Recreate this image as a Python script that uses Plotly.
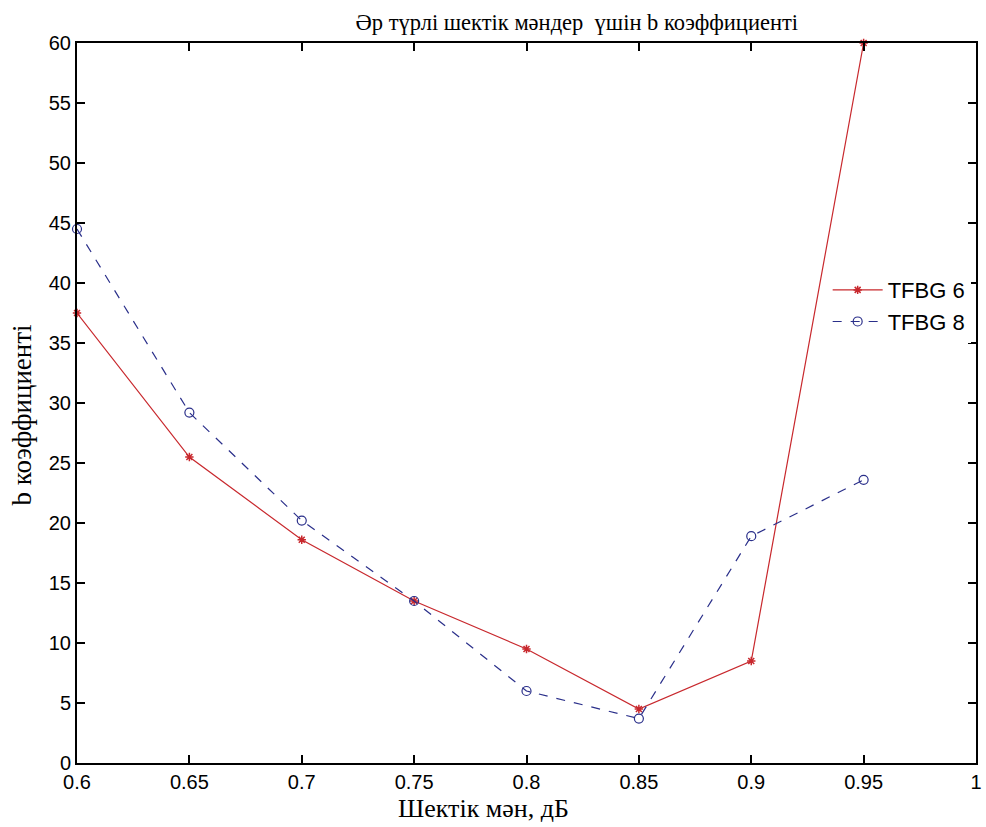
import plotly.graph_objects as go

x_vals = [0.6, 0.65, 0.7, 0.75, 0.8, 0.85, 0.9, 0.95]
tfbg6 = [37.5, 25.5, 18.6, 13.5, 9.5, 4.5, 8.5, 60.0]
tfbg8 = [44.5, 29.2, 20.2, 13.5, 6.0, 3.7, 18.9, 23.6]
x_ticks = [0.6, 0.65, 0.7, 0.75, 0.8, 0.85, 0.9, 0.95, 1.0]
x_tick_text = ["0.6", "0.65", "0.7", "0.75", "0.8", "0.85", "0.9", "0.95", "1"]
y_ticks = list(range(0, 61, 5))

fig = go.Figure()
fig.add_trace(go.Scatter(
    x=x_vals, y=tfbg6, name="TFBG 6", mode="lines+markers",
    line=dict(color="#c8282d", width=1.2),
    marker=dict(symbol="asterisk-open", size=7, color="#c8282d",
                line=dict(color="#c8282d", width=1.5)),
    cliponaxis=False,
))
fig.add_trace(go.Scatter(
    x=x_vals, y=tfbg8, name="TFBG 8", mode="lines+markers",
    line=dict(color="#2a2f8a", width=1.2, dash="dash"),
    marker=dict(symbol="circle-open", size=9, color="#2a2f8a",
                line=dict(color="#2a2f8a", width=1.2)),
    cliponaxis=False,
))

axis_common = dict(
    showgrid=False, zeroline=False, showline=True, linecolor="black",
    linewidth=2, mirror="ticks", ticks="inside", ticklen=8, tickwidth=2,
    tickcolor="black", tickfont=dict(family="Liberation Sans, Arial", size=20, color="black"),
)

serif = "Liberation Serif, Times New Roman"

fig.update_layout(
    width=986, height=827,
    paper_bgcolor="white", plot_bgcolor="white",
    margin=dict(l=77, r=4, t=43, b=64),
    title=dict(text="Әр түрлі шектік мәндер  үшін b коэффициенті",
               x=0.585, xanchor="center", y=0.973, yanchor="middle",
               font=dict(family=serif, size=22.5, color="black")),
    xaxis=dict(range=[0.6, 1.0], tickvals=x_ticks, ticktext=x_tick_text, **axis_common),
    yaxis=dict(range=[0, 60], tickvals=y_ticks, **axis_common),
    legend=dict(x=0.835, y=0.686, xanchor="left", yanchor="top",
                bgcolor="rgba(255,255,255,1)", borderwidth=0,
                font=dict(family="Liberation Sans, Arial", size=22, color="black"),
                tracegroupgap=0, itemwidth=50),
    showlegend=True,
)

fig.add_annotation(text="Шектік мән, дБ", xref="paper", yref="paper",
                   x=0.452, y=-0.0625, xanchor="center", yanchor="middle",
                   showarrow=False, font=dict(family=serif, size=26, color="black"))
fig.add_annotation(text="b коэффициенті", xref="paper", yref="paper",
                   x=-0.0608, y=0.483, xanchor="center", yanchor="middle",
                   textangle=-90, showarrow=False,
                   font=dict(family=serif, size=27, color="black"))

fig.write_html("out.html")
